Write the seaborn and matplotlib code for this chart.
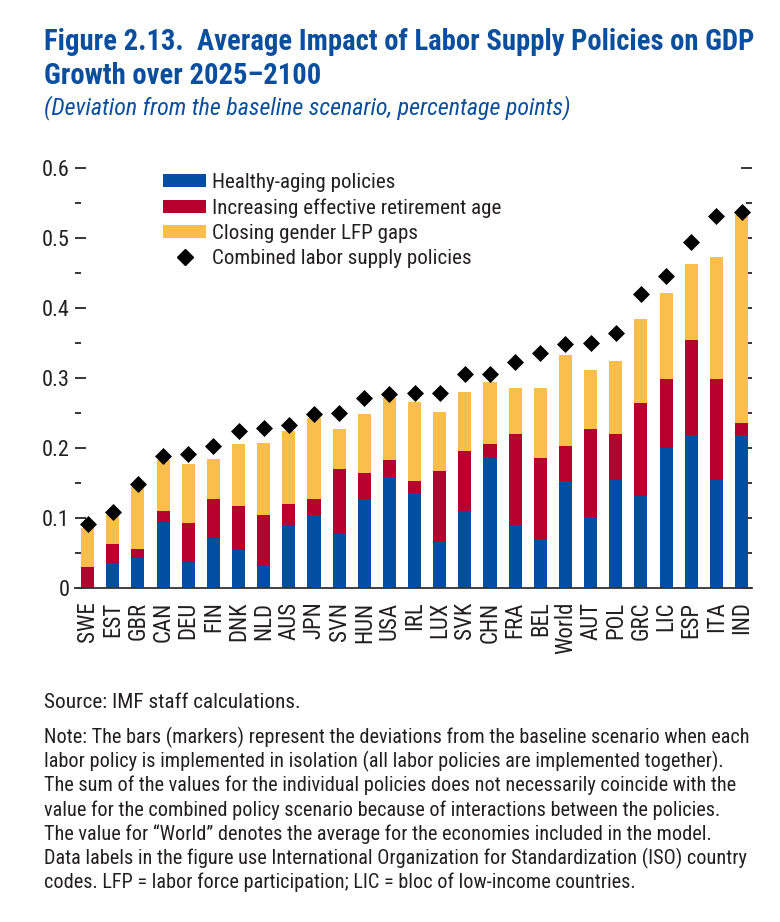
import numpy as np
import pandas as pd
import matplotlib
matplotlib.use("Agg")
import matplotlib.pyplot as plt
import seaborn as sns
from matplotlib import font_manager as fm
from matplotlib.patches import Patch
from matplotlib.lines import Line2D

# Data (percentage points)
countries = ["SWE", "EST", "GBR", "CAN", "DEU", "FIN", "DNK", "NLD", "AUS", "JPN",
             "SVN", "HUN", "USA", "IRL", "LUX", "SVK", "CHN", "FRA", "BEL", "World",
             "AUT", "POL", "GRC", "LIC", "ESP", "ITA", "IND"]
healthy_aging = [0.000, 0.036, 0.043, 0.094, 0.037, 0.071, 0.054, 0.033, 0.090, 0.104,
                 0.077, 0.127, 0.159, 0.135, 0.065, 0.109, 0.186, 0.089, 0.070, 0.153,
                 0.101, 0.154, 0.131, 0.200, 0.218, 0.154, 0.218]
retirement_age = [0.030, 0.026, 0.013, 0.015, 0.056, 0.056, 0.063, 0.071, 0.030, 0.023,
                  0.093, 0.037, 0.024, 0.018, 0.102, 0.087, 0.020, 0.131, 0.116, 0.050,
                  0.126, 0.066, 0.133, 0.099, 0.136, 0.145, 0.018]
gender_gaps = [0.056, 0.042, 0.088, 0.074, 0.084, 0.057, 0.089, 0.103, 0.104, 0.115,
               0.057, 0.084, 0.088, 0.113, 0.084, 0.084, 0.088, 0.066, 0.100, 0.130,
               0.084, 0.104, 0.120, 0.123, 0.109, 0.174, 0.297]
combined = [0.091, 0.108, 0.148, 0.188, 0.191, 0.202, 0.224, 0.229, 0.233, 0.248,
            0.250, 0.271, 0.277, 0.278, 0.279, 0.305, 0.306, 0.323, 0.335, 0.349,
            0.350, 0.364, 0.420, 0.446, 0.495, 0.532, 0.538]
legend_labels = ["Healthy-aging policies", "Increasing effective retirement age",
                 "Closing gender LFP gaps", "Combined labor supply policies"]
ytick_labels = ["0", "0.1", "0.2", "0.3", "0.4", "0.5", "0.6"]

BLUE = "#004FA3"
RED = "#B7002E"
YELLOW = "#F9BE4B"
TITLE_BLUE = "#0A4F9E"
TEXT = "#231F20"

# pick a narrow sans if one is there, else fall back
available = {f.name for f in fm.fontManager.ttflist}
candidates = ["Roboto Condensed", "Fira Sans Condensed", "PT Sans Narrow",
              "Liberation Sans Narrow", "Open Sans Condensed", "Liberation Sans"]
narrow = next((c for c in candidates if c in available), "DejaVu Sans")

sns.set_theme(style="white")
plt.rcParams["font.family"] = [narrow, "DejaVu Sans"]

df = pd.DataFrame({
    "country": countries,
    "healthy": healthy_aging,
    "retire": retirement_age,
    "gender": gender_gaps,
    "combined": combined,
})
df["top_retire"] = df["healthy"] + df["retire"]
df["top_gender"] = df["top_retire"] + df["gender"]

fig = plt.figure(figsize=(7.8, 9.22), dpi=100)
renderer = fig.canvas.get_renderer()
H = 922.0


def fitted(x, y_px, s, target_px, size, **kw):
    """place text at a pixel baseline and rescale it to a target width"""
    t = fig.text(x, 1 - y_px / H, s, fontsize=size, ha="left", va="baseline", **kw)
    w = t.get_window_extent(renderer).width
    t.set_fontsize(size * target_px / w)
    return t


ax = fig.add_axes([0.0962, 0.3626, 0.868, 0.455])

bar_w = 0.52
sns.barplot(data=df, x="country", y="top_gender", color=YELLOW, width=bar_w,
            saturation=1, ax=ax, linewidth=0)
sns.barplot(data=df, x="country", y="top_retire", color=RED, width=bar_w,
            saturation=1, ax=ax, linewidth=0)
sns.barplot(data=df, x="country", y="healthy", color=BLUE, width=bar_w,
            saturation=1, ax=ax, linewidth=0)
sns.scatterplot(data=df, x="country", y="combined", marker="D", color="black",
                s=75, linewidth=0, ax=ax, zorder=5)

ax.set_xlim(-0.5, 26.42)
ax.set_ylim(0, 0.6)
ax.set_xlabel("")
ax.set_ylabel("")

ax.set_yticks(np.arange(0, 0.61, 0.1))
ax.set_yticklabels(ytick_labels)
ax.set_yticks(np.arange(0.05, 0.6, 0.1), minor=True)
ax.tick_params(axis="y", which="major", left=True, right=True, direction="in",
               length=8, width=1.1, color="black", labelsize=16, pad=4,
               labelcolor=TEXT)
ax.tick_params(axis="y", which="minor", left=True, right=True, direction="in",
               length=4, width=1.1, color="black")
ax.tick_params(axis="x", bottom=False, labelsize=16.5, rotation=90, pad=4,
               labelcolor=TEXT)

for side in ["left", "right", "top"]:
    ax.spines[side].set_visible(False)
ax.spines["bottom"].set_color("#333333")
ax.spines["bottom"].set_linewidth(1.3)

handles = [
    Patch(facecolor=BLUE, edgecolor="none", label=legend_labels[0]),
    Patch(facecolor=RED, edgecolor="none", label=legend_labels[1]),
    Patch(facecolor=YELLOW, edgecolor="none", label=legend_labels[2]),
    Line2D([], [], marker="D", color="black", linestyle="none", markersize=8.5,
           label=legend_labels[3]),
]
leg = fig.legend(handles=handles, loc="upper left", bbox_to_anchor=(0.209, 0.8125),
                 frameon=False, fontsize=15.1, handlelength=2.05, handleheight=0.55,
                 handletextpad=0.3, labelspacing=0.3, borderpad=0, borderaxespad=0)
for t in leg.get_texts():
    t.set_color(TEXT)

# titles
t1 = fitted(0.056, 50, "Figure 2.13.  Average Impact of Labor Supply Policies on GDP",
            708, 20, fontweight="bold", color=TITLE_BLUE)
fig.text(0.056, 1 - 84 / H, "Growth over 2025\u20132100", fontsize=t1.get_fontsize(),
         fontweight="bold", color=TITLE_BLUE, ha="left", va="baseline")
fitted(0.056, 114, "(Deviation from the baseline scenario, percentage points)",
       529, 16, fontstyle="italic", color=TITLE_BLUE)

# source and note
fitted(0.056, 708, "Source: IMF staff calculations.", 258, 14, color=TEXT)
note_lines = [
    "Note: The bars (markers) represent the deviations from the baseline scenario when each",
    "labor policy is implemented in isolation (all labor policies are implemented together).",
    "The sum of the values for the individual policies does not necessarily coincide with the",
    "value for the combined policy scenario because of interactions between the policies.",
    "The value for \u201cWorld\u201d denotes the average for the economies included in the model.",
    "Data labels in the figure use International Organization for Standardization (ISO) country",
    "codes. LFP = labor force participation; LIC = bloc of low-income countries.",
]
first = fitted(0.056, 743, note_lines[0], 708, 14, color=TEXT)
for i, line in enumerate(note_lines[1:], start=1):
    fig.text(0.056, 1 - (743 + 24.2 * i) / H, line, fontsize=first.get_fontsize(),
             color=TEXT, ha="left", va="baseline")

fig.savefig("out.png", dpi=100)
